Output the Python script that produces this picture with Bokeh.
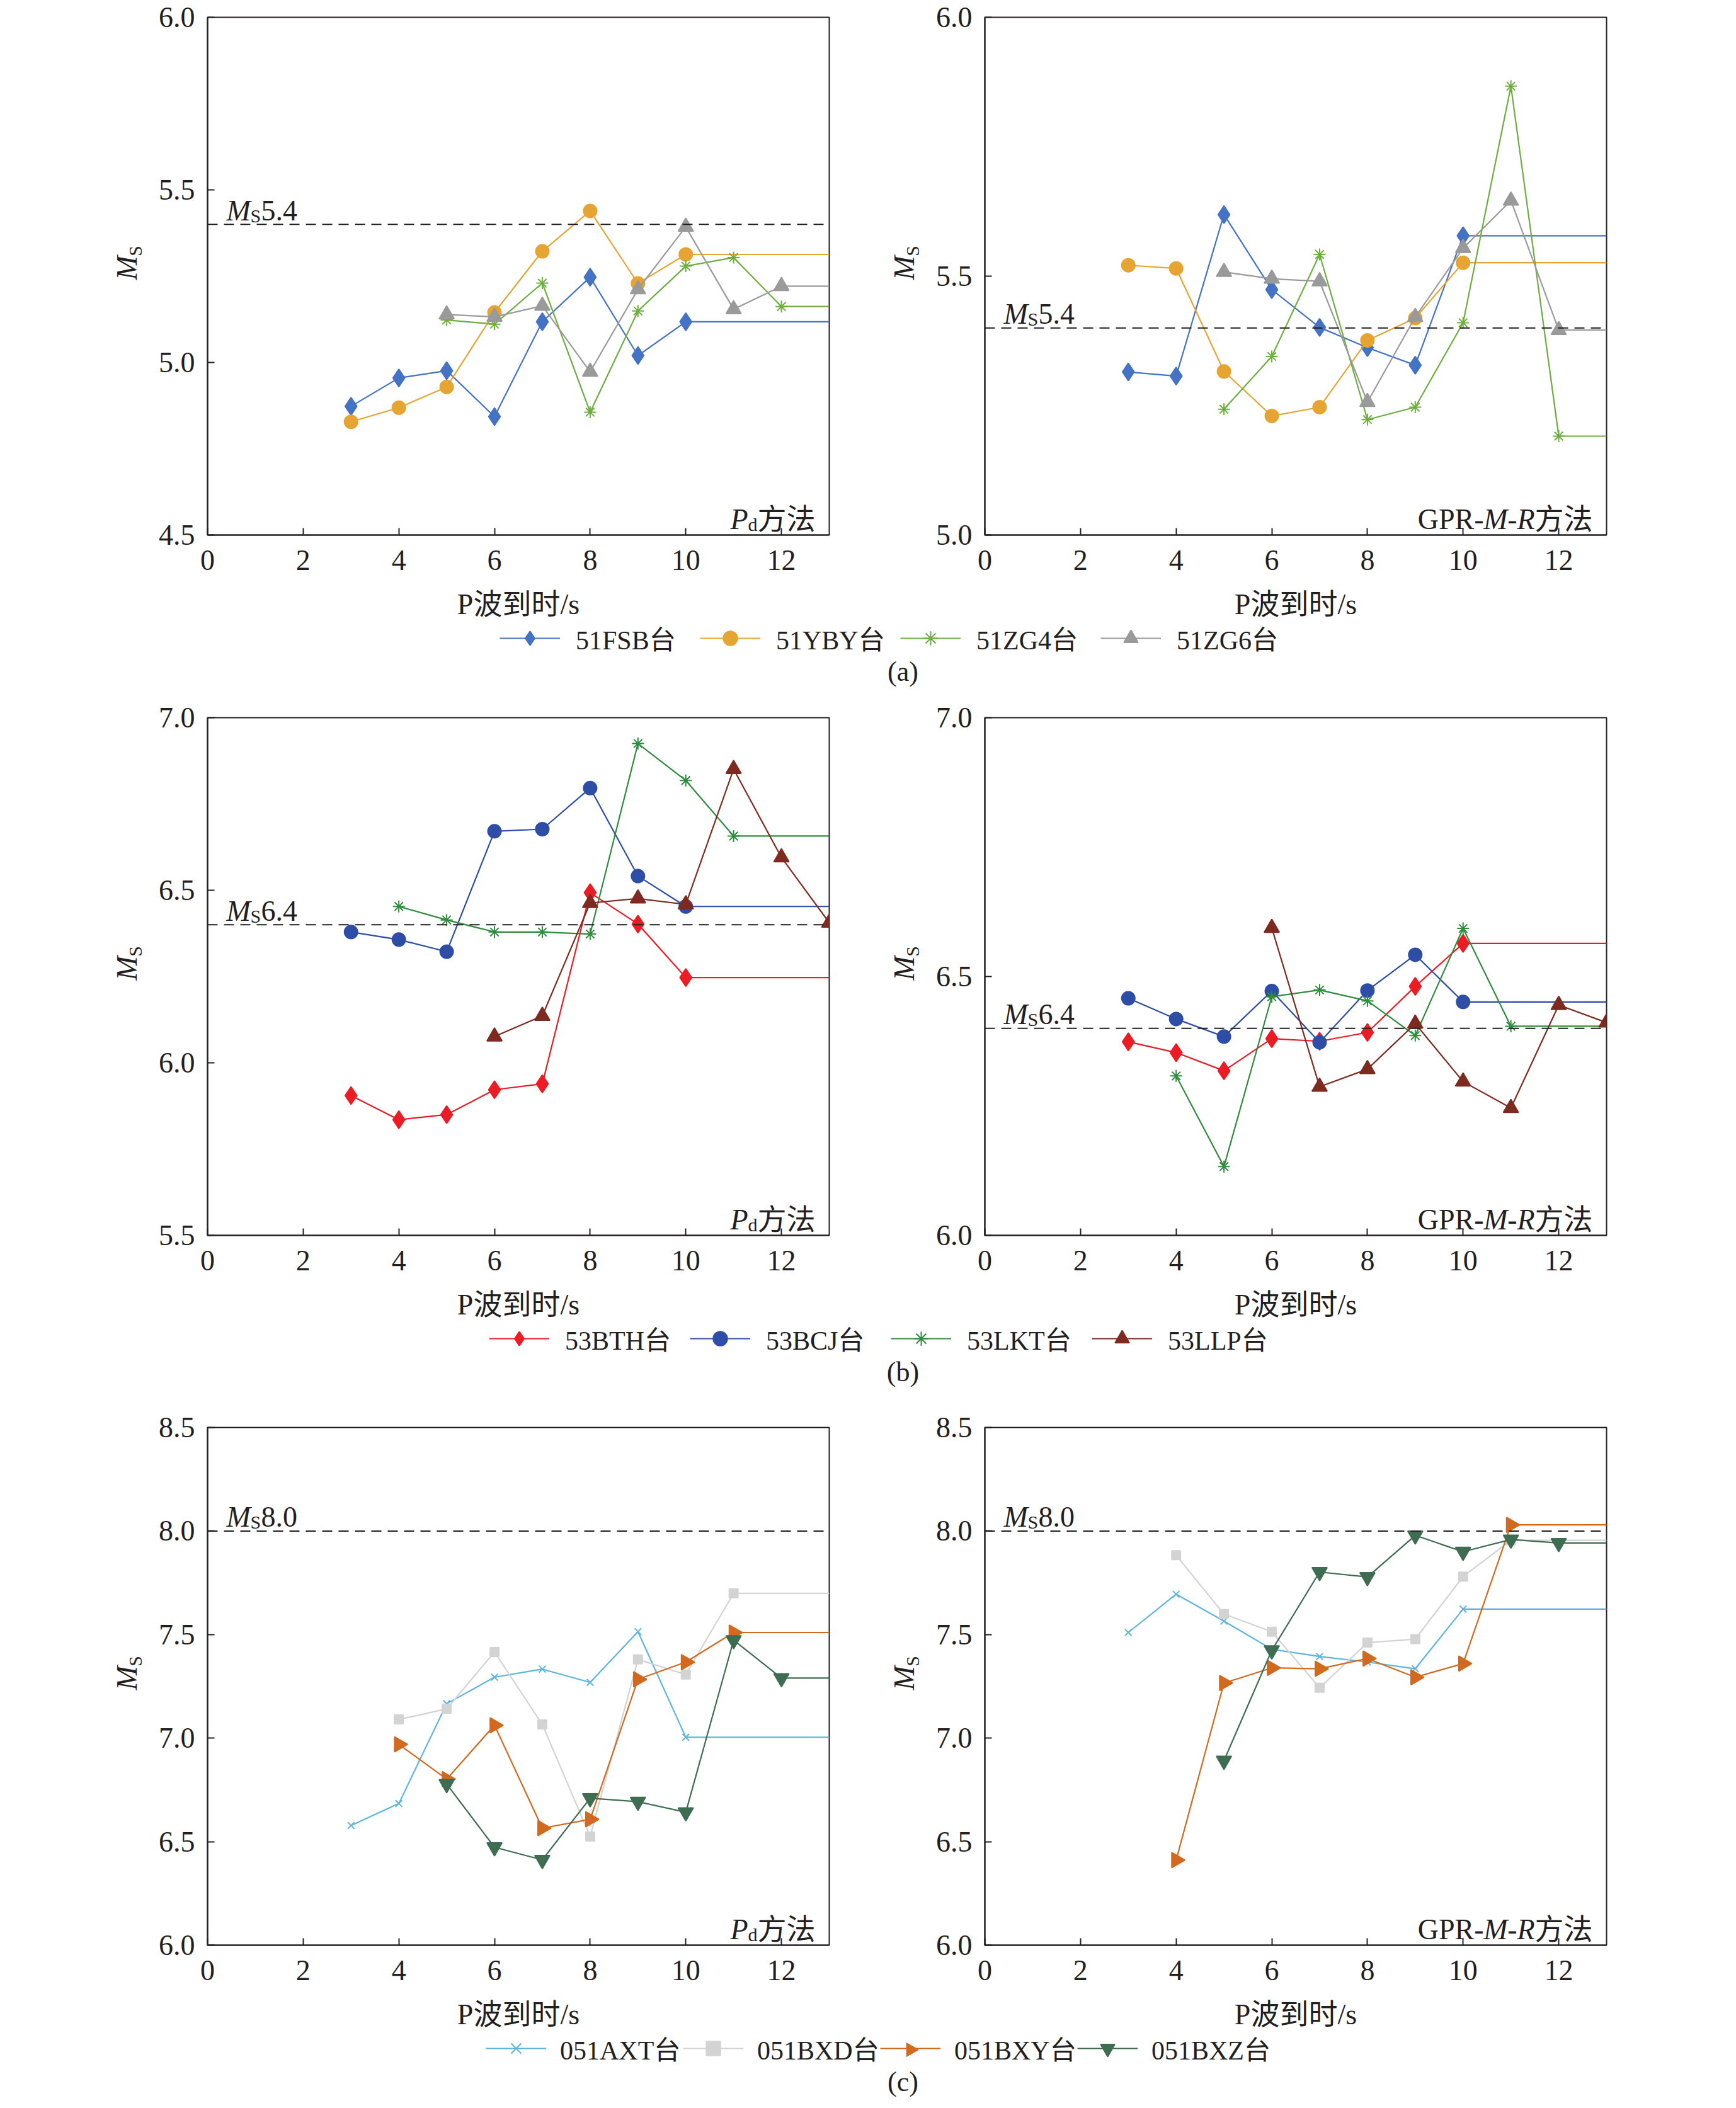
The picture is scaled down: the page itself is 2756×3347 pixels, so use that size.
import math
from bokeh.plotting import figure
from bokeh.models import (Range1d, FixedTicker, PrintfTickFormatter, Span, Label,
                          Legend, LegendItem)
from bokeh.layouts import column, row
from bokeh.embed import file_html
from bokeh.resources import INLINE
from bokeh.core.properties import value

NAN = float("nan")

# ---------------- data ----------------
x_label = "P波到时/s"
x_ticks = [0, 2, 4, 6, 8, 10, 12]
x_max = 13

# (a) Ms5.4
a_ref = 5.4
a_names = ["51FSB台", "51YBY台", "51ZG4台", "51ZG6台"]
a_t_FSB = [3, 4, 5, 6, 7, 8, 9, 10]
a_t_YBY = [3, 4, 5, 6, 7, 8, 9, 10]
a_t_ZG4 = [5, 6, 7, 8, 9, 10, 11, 12]
a_t_ZG6 = [5, 6, 7, 8, 9, 10, 11, 12]
a_pd_FSB = [4.873, 4.955, 4.976, 4.843, 5.118, 5.247, 5.020, 5.118]
a_pd_YBY = [4.828, 4.869, 4.929, 5.145, 5.322, 5.439, 5.229, 5.313]
a_pd_ZG4 = [5.123, 5.111, 5.230, 4.856, 5.149, 5.279, 5.304, 5.162]
a_pd_ZG6 = [5.139, 5.132, 5.164, 4.973, 5.212, 5.393, 5.154, 5.221]
a_gpr_FSB = [5.315, 5.307, 5.619, 5.474, 5.401, 5.362, 5.328, 5.578]
a_gpr_YBY = [5.521, 5.515, 5.316, 5.230, 5.247, 5.376, 5.419, 5.526]
a_gpr_ZG4 = [5.243, 5.345, 5.542, 5.223, 5.247, 5.410, 5.867, 5.191]
a_gpr_ZG6 = [5.508, 5.495, 5.490, 5.257, 5.421, 5.554, 5.646, 5.396]

# (b) Ms6.4
b_ref = 6.4
b_names = ["53BTH台", "53BCJ台", "53LKT台", "53LLP台"]
b_t_BTH = [3, 4, 5, 6, 7, 8, 9, 10]
b_t_BCJ = [3, 4, 5, 6, 7, 8, 9, 10]
b_t_LKT = [4, 5, 6, 7, 8, 9, 10, 11]
b_t_LLP = [6, 7, 8, 9, 10, 11, 12, 13]
b_pd_BTH = [5.905, 5.835, 5.850, 5.922, 5.939, 6.493, 6.402, 6.247]
b_pd_BCJ = [6.379, 6.357, 6.322, 6.671, 6.677, 6.796, 6.541, 6.453]
b_pd_LKT = [6.453, 6.414, 6.379, 6.379, 6.373, 6.925, 6.818, 6.657]
b_pd_LLP = [6.076, 6.136, 6.463, 6.476, 6.459, 6.851, 6.595, 6.406]
b_gpr_BTH = [6.374, 6.353, 6.318, 6.380, 6.375, 6.392, 6.481, 6.564]
b_gpr_BCJ = [6.458, 6.418, 6.384, 6.472, 6.373, 6.473, 6.542, 6.451]
b_gpr_LKT = [6.308, 6.133, 6.461, 6.474, 6.453, 6.386, 6.593, 6.404]
b_gpr_LLP = [6.594, 6.287, 6.321, 6.409, 6.297, 6.246, 6.445, 6.411]

# (c) Ms8.0
c_ref = 8.0
c_names = ["051AXT台", "051BXD台", "051BXY台", "051BXZ台"]
c_t_AXT = [3, 4, 5, 6, 7, 8, 9, 10]
c_t_BXD = [4, 5, 6, 7, 8, 9, 10, 11]
c_t_BXY = [4, 5, 6, 7, 8, 9, 10, 11]
c_t_BXZ = [5, 6, 7, 8, 9, 10, 11, 12]
c_pd_AXT = [6.578, 6.684, 7.166, 7.294, 7.333, 7.269, 7.514, 7.004]
c_pd_BXD = [7.090, 7.141, 7.416, 7.066, 6.525, 7.380, 7.307, 7.699]
c_pd_BXY = [6.970, 6.802, 7.062, 6.565, 6.608, 7.284, 7.367, 7.510]
c_pd_BXZ = [6.778, 6.473, 6.412, 6.710, 6.693, 6.642, 7.473, 7.290]
c_gpr_AXT = [7.510, 7.695, 7.565, 7.429, 7.394, 7.367, 7.335, 7.623]
c_gpr_BXD = [7.883, 7.599, 7.514, 7.243, 7.461, 7.478, 7.780, 7.955]
c_gpr_BXY = [6.411, 7.266, 7.339, 7.335, 7.384, 7.294, 7.360, 8.030]
c_gpr_BXZ = [6.891, 7.424, 7.802, 7.778, 7.979, 7.900, 7.959, 7.942]

# ---------------- styles ----------------
FONT = "'Liberation Serif', 'Noto Sans CJK SC'"
TXT = "#231F20"
STYLE = {
    "51FSB台": dict(color="#4472C4", marker="diamond", size=28),
    "51YBY台": dict(color="#E6A532", marker="circle", size=21),
    "51ZG4台": dict(color="#6DAE3F", marker="asterisk", size=19),
    "51ZG6台": dict(color="#9A9A9A", marker="triangle", size=24),
    "53BTH台": dict(color="#EC1C24", marker="diamond", size=28),
    "53BCJ台": dict(color="#2E4DA7", marker="circle", size=21),
    "53LKT台": dict(color="#2F8B3E", marker="asterisk", size=19),
    "53LLP台": dict(color="#7D2B20", marker="triangle", size=24),
    "051AXT台": dict(color="#5CB5DD", marker="x", size=15),
    "051BXD台": dict(color="#D3D3D3", marker="square", size=14),
    "051BXY台": dict(color="#D2691E", marker="triangle", size=24, angle=-math.pi / 2),
    "051BXZ台": dict(color="#3E6D52", marker="inverted_triangle", size=24),
}

TOTAL_W = 2740
FW, FH = 987, 822
TOP, BOT = 27, 78
FIG_H = TOP + FH + BOT
LW = 2.2

P_LB = 90                       # panel left border (tick labels only)
YL_A, YL_B = 239, 137           # widths of the y-title strips
L_W, L_RIGHT = P_LB + FW + 20, 20
R_W, R_RIGHT = P_LB + FW + 190, 190
CENTER_L = YL_A + P_LB + FW / 2
CENTER_R = YL_A + L_W + YL_B + P_LB + FW / 2


def add_text(p, x, y, text, size, italic=False, align="left", baseline="alphabetic",
             angle=0.0):
    p.add_layout(Label(x=x, y=y, x_units="data", y_units="data", text=text,
                       text_font=FONT, text_font_size=f"{size}px",
                       text_font_style="italic" if italic else "normal",
                       text_color=TXT, text_align=align, text_baseline=baseline,
                       angle=angle))


def blank_fig(width, height):
    return figure(width=width, height=height, x_range=Range1d(0, width),
                  y_range=Range1d(0, height), x_axis_type=None, y_axis_type=None,
                  min_border=0, toolbar_location=None, tools="", output_backend="svg",
                  outline_line_color=None)


def make_ytitle(width):
    # rotated  M_S  centred on the panel frame, 128 px left of it
    p = blank_fig(width, FIG_H)
    cx = width - (128 - P_LB)
    yc = BOT + FH / 2
    add_text(p, cx, yc + 11, "M", 46, italic=True, align="right", baseline="middle",
             angle=math.pi / 2)
    add_text(p, cx + 13, yc + 29, "S", 30, align="right", baseline="middle",
             angle=math.pi / 2)
    return p


def make_panel(width, right, yr, yt, series, ref, method):
    p = figure(width=width, height=FIG_H, x_range=Range1d(0, x_max), y_range=Range1d(*yr),
               min_border_left=P_LB, min_border_right=right, min_border_top=TOP,
               min_border_bottom=BOT, toolbar_location=None, tools="",
               output_backend="svg", background_fill_color="white")
    p.xgrid.visible = False
    p.ygrid.visible = False
    p.outline_line_color = TXT
    p.outline_line_width = 2
    p.xaxis.ticker = FixedTicker(ticks=x_ticks)
    p.yaxis.ticker = FixedTicker(ticks=yt)
    p.yaxis.formatter = PrintfTickFormatter(format="%.1f")
    for ax in (p.xaxis, p.yaxis):
        ax.axis_line_color = TXT
        ax.axis_line_width = 2
        ax.major_tick_line_color = TXT
        ax.major_tick_line_width = 2
        ax.major_tick_in = 11
        ax.major_tick_out = 0
        ax.minor_tick_line_color = None
        ax.major_label_text_font = FONT
        ax.major_label_text_font_size = "46px"
        ax.major_label_text_color = TXT
    p.xaxis.major_label_standoff = 24
    p.yaxis.major_label_standoff = 20

    p.add_layout(Span(location=ref, dimension="width", line_color=TXT,
                      line_dash="16 10", line_width=2))

    for name, t, v in series:
        st = STYLE[name]
        xs, ys = list(t), list(v)
        if xs[-1] < x_max:
            xs.append(x_max)
            ys.append(ys[-1])
        p.line(xs, ys, line_color=st["color"], line_width=LW)
        p.scatter(t, v, marker=st["marker"], size=st["size"], fill_color=st["color"],
                  line_color=st["color"], line_width=2, angle=st.get("angle", 0.0))

    px = FW / x_max
    py = FH / (yr[1] - yr[0])
    # reference magnitude label
    x0 = 30 / px
    yb = ref + 22 / py
    add_text(p, x0, yb, "M", 46, italic=True)
    add_text(p, x0 + 38 / px, yb - 8 / py, "S", 30)
    add_text(p, x0 + 55 / px, yb, f"{ref:.1f}", 46)

    # method label (right aligned pieces)
    cur = x_max - 22 / px
    base = yr[0] + 25 / py
    for text, size, italic, w, sub in method:
        add_text(p, cur, base - (8 / py if sub else 0), text, size, italic=italic, align="right")
        cur -= w / px
    return p


PD = [("方法", 46, False, 92, False), ("d", 30, False, 15, True), ("P", 46, True, 28, False)]
GPR = [("方法", 46, False, 92, False), ("R", 46, True, 28, False), ("-", 46, False, 15, False),
       ("M", 46, True, 38, False), ("GPR-", 46, False, 105, False)]

GW, GH = 96, 56
TITLE_C = 32
LEG_C = 88
CAP_C = 139
CAP_X = 1433


def make_legend(names, height, x0, label_width, standoff, caption):
    p = blank_fig(TOTAL_W, height)
    # x-axis titles of the two panels above
    for cx in (CENTER_L, CENTER_R):
        p.add_layout(Label(x=cx, y=height - TITLE_C, text=x_label, text_font=FONT,
                           text_font_size="46px", text_color=TXT, text_align="center",
                           text_baseline="middle"))
    items = []
    pitch = GW + standoff + label_width
    for i, name in enumerate(names):
        st = STYLE[name]
        lr = p.line(x=[NAN], y=[NAN], line_color=st["color"], line_width=LW)
        rs = [lr]
        if st.get("angle", 0.0) == 0.0:
            sr = p.scatter(x=[NAN], y=[NAN], marker=st["marker"], fill_color=st["color"],
                           line_color=st["color"], line_width=2)
            rs.append(sr)
        else:
            cx = x0 + i * pitch + GW / 2
            cy = height - LEG_C
            p.scatter([cx], [cy], marker=st["marker"], size=22, fill_color=st["color"],
                      line_color=st["color"], angle=st["angle"], level="overlay")
        items.append(LegendItem(label=value(name), renderers=rs))
    leg = Legend(items=items, orientation="horizontal",
                 location=(x0, height - LEG_C - GH / 2),
                 glyph_width=GW, glyph_height=GH, label_standoff=standoff,
                 label_width=label_width, spacing=0, padding=0, margin=0,
                 border_line_color=None, background_fill_alpha=0,
                 label_text_font=FONT, label_text_font_size="42px",
                 label_text_color=TXT)
    p.add_layout(leg)
    p.add_layout(Label(x=CAP_X, y=height - CAP_C, text=caption, text_font=FONT,
                       text_font_size="44px", text_color=TXT, text_align="center",
                       text_baseline="middle"))
    return p


def panel_row(left, right):
    return row(make_ytitle(YL_A), left, make_ytitle(YL_B), right)


a_l = make_panel(L_W, L_RIGHT, (4.5, 6.0), [4.5, 5.0, 5.5, 6.0],
                 [(a_names[0], a_t_FSB, a_pd_FSB), (a_names[1], a_t_YBY, a_pd_YBY),
                  (a_names[2], a_t_ZG4, a_pd_ZG4), (a_names[3], a_t_ZG6, a_pd_ZG6)], a_ref, PD)
a_r = make_panel(R_W, R_RIGHT, (5.0, 6.0), [5.0, 5.5, 6.0],
                 [(a_names[0], a_t_FSB, a_gpr_FSB), (a_names[1], a_t_YBY, a_gpr_YBY),
                  (a_names[2], a_t_ZG4, a_gpr_ZG4), (a_names[3], a_t_ZG6, a_gpr_ZG6)], a_ref, GPR)
b_l = make_panel(L_W, L_RIGHT, (5.5, 7.0), [5.5, 6.0, 6.5, 7.0],
                 [(b_names[0], b_t_BTH, b_pd_BTH), (b_names[1], b_t_BCJ, b_pd_BCJ),
                  (b_names[2], b_t_LKT, b_pd_LKT), (b_names[3], b_t_LLP, b_pd_LLP)], b_ref, PD)
b_r = make_panel(R_W, R_RIGHT, (6.0, 7.0), [6.0, 6.5, 7.0],
                 [(b_names[0], b_t_BTH, b_gpr_BTH), (b_names[1], b_t_BCJ, b_gpr_BCJ),
                  (b_names[2], b_t_LKT, b_gpr_LKT), (b_names[3], b_t_LLP, b_gpr_LLP)], b_ref, GPR)
c_l = make_panel(L_W, L_RIGHT, (6.0, 8.5), [6.0, 6.5, 7.0, 7.5, 8.0, 8.5],
                 [(c_names[0], c_t_AXT, c_pd_AXT), (c_names[1], c_t_BXD, c_pd_BXD),
                  (c_names[2], c_t_BXY, c_pd_BXY), (c_names[3], c_t_BXZ, c_pd_BXZ)], c_ref, PD)
c_r = make_panel(R_W, R_RIGHT, (6.0, 8.5), [6.0, 6.5, 7.0, 7.5, 8.0, 8.5],
                 [(c_names[0], c_t_AXT, c_gpr_AXT), (c_names[1], c_t_BXD, c_gpr_BXD),
                  (c_names[2], c_t_BXY, c_gpr_BXY), (c_names[3], c_t_BXZ, c_gpr_BXZ)], c_ref, GPR)

leg_a = make_legend(a_names, 185, 793, 197, 25, "(a)")
leg_b = make_legend(b_names, 200, 776, 198, 25, "(b)")
leg_c = make_legend(c_names, 165, 771, 195, 22, "(c)")

page = column(panel_row(a_l, a_r), leg_a, panel_row(b_l, b_r), leg_b,
              panel_row(c_l, c_r), leg_c)

with open("out.html", "w") as f:
    f.write(file_html(page, INLINE))
